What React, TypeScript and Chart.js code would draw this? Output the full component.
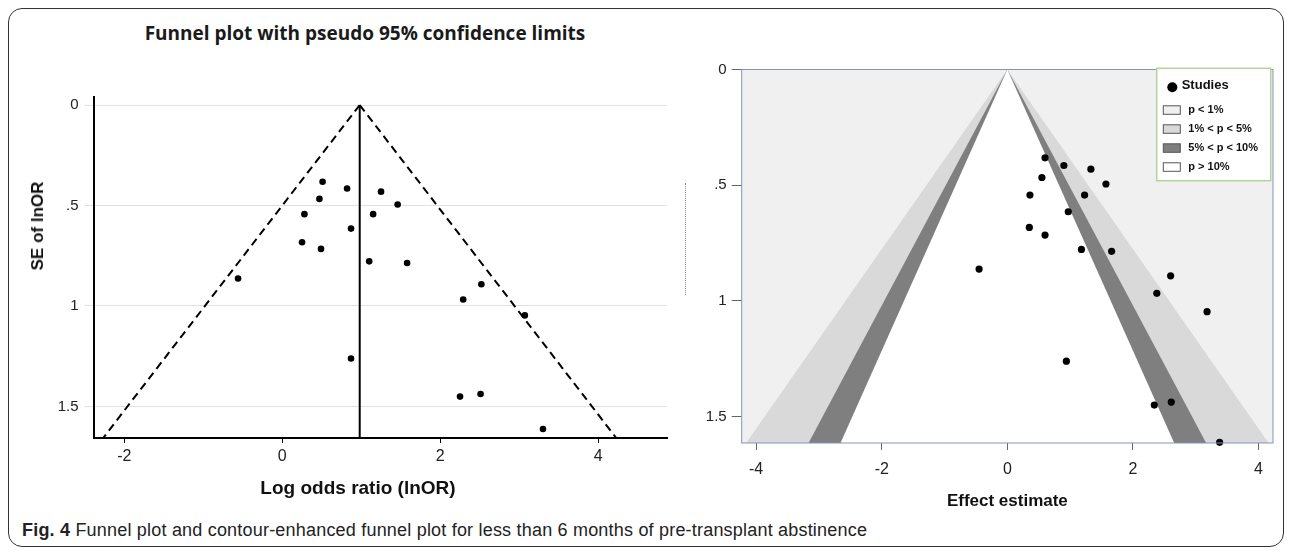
import React, { useEffect, useRef } from 'react';
import { Chart, registerables } from 'chart.js';

Chart.register(...registerables);

const FONT = "'Liberation Sans', Arial, Helvetica, sans-serif";
Chart.defaults.font.family = FONT;
Chart.defaults.color = '#222';

// ---- data ----
const studySE = [
  0.382, 0.415, 0.431, 0.467, 0.495, 0.543, 0.543, 0.615, 0.683, 0.716,
  0.778, 0.786, 0.863, 0.892, 0.968, 1.047, 1.261, 1.451, 1.438, 1.612,
];
const leftLogOR = [
  0.51, 0.82, 1.25, 0.47, 1.46, 0.28, 1.15, 0.87, 0.25, 0.49,
  1.10, 1.58, -0.56, 2.52, 2.29, 3.07, 0.87, 2.25, 2.51, 3.30,
];
const rightEffect = [
  0.60, 0.90, 1.33, 0.55, 1.57, 0.36, 1.23, 0.97, 0.35, 0.60,
  1.18, 1.66, -0.45, 2.60, 2.38, 3.18, 0.94, 2.34, 2.61, 3.38,
];
const pooledLogOR = 0.98;
const z95 = 1.96;
const contourZ = [1.645, 1.96, 2.576]; // p>10%, 5-10%, 1-5% boundaries
const leftXTicks = [-2, 0, 2, 4];
const rightXTicks = [-4, -2, 0, 2, 4];
const seTicks = [0, 0.5, 1, 1.5];
const legendLabels = ['Studies', 'p < 1%', '1% < p < 5%', '5% < p < 10%', 'p > 10%'];
const legendColors = ['#000000', '#f0f0f0', '#d9d9d9', '#7f7f7f', '#ffffff'];
const contourColors = ['#ffffff', '#7f7f7f', '#d9d9d9'];
const outerColor = '#f0f0f0';

const leftRange = { xMin: -2.39, xMax: 4.87, yMin: -0.04, yMax: 1.657 };
const rightRange = { xMin: -4.23, xMax: 4.23, yMin: 0, yMax: 1.615 };

const seLabel = (v: number) => (v === 0 ? '0' : String(v).replace(/^0\./, '.'));

function LeftFunnel() {
  const ref = useRef<HTMLCanvasElement | null>(null);
  useEffect(() => {
    if (!ref.current) return;
    const yMax = leftRange.yMax;
    const chart = new Chart(ref.current, {
      type: 'scatter',
      data: {
        datasets: [
          {
            label: 'Studies',
            data: leftLogOR.map((x, i) => ({ x, y: studySE[i] })),
            pointRadius: 3.3,
            pointBackgroundColor: '#000',
            pointBorderColor: '#000',
            pointBorderWidth: 0,
            clip: false,
          },
          {
            label: 'Pooled',
            data: [{ x: pooledLogOR, y: 0 }, { x: pooledLogOR, y: yMax }],
            showLine: true,
            borderColor: '#000',
            borderWidth: 2,
            pointRadius: 0,
          },
          {
            label: 'Lower limit',
            data: [{ x: pooledLogOR, y: 0 }, { x: pooledLogOR - z95 * yMax, y: yMax }],
            showLine: true,
            borderColor: '#000',
            borderWidth: 2,
            borderDash: [8, 5],
            pointRadius: 0,
          },
          {
            label: 'Upper limit',
            data: [{ x: pooledLogOR, y: 0 }, { x: pooledLogOR + z95 * yMax, y: yMax }],
            showLine: true,
            borderColor: '#000',
            borderWidth: 2,
            borderDash: [8, 5],
            pointRadius: 0,
          },
        ],
      },
      options: {
        animation: false,
        responsive: false,
        maintainAspectRatio: false,
        layout: { padding: { top: 37, right: 13, left: 0, bottom: 0 } },
        plugins: { legend: { display: false }, tooltip: { enabled: false } },
        scales: {
          x: {
            type: 'linear',
            min: leftRange.xMin,
            max: leftRange.xMax,
            afterBuildTicks: (s: any) => {
              s.ticks = leftXTicks.map((v) => ({ value: v }));
            },
            afterFit: (s: any) => {
              s.height = 42;
            },
            ticks: { font: { size: 16 }, color: '#222', padding: 4 },
            grid: { display: true, drawOnChartArea: false, drawTicks: true, tickLength: 5, color: '#000', lineWidth: 1 },
            border: { display: true, color: '#000', width: 2 },
          },
          y: {
            type: 'linear',
            reverse: true,
            min: leftRange.yMin,
            max: leftRange.yMax,
            afterBuildTicks: (s: any) => {
              s.ticks = seTicks.map((v) => ({ value: v }));
            },
            afterFit: (s: any) => {
              s.width = 84.5;
            },
            ticks: { font: { size: 15 }, color: '#222', padding: 6, callback: (v: any) => seLabel(Number(v)) },
            grid: { color: '#e0e0e0', lineWidth: 1, drawTicks: true, tickLength: 9 },
            border: { display: true, color: '#000', width: 2 },
          },
        },
      },
    } as any);
    return () => chart.destroy();
  }, []);
  return <canvas ref={ref} width={671} height={420} style={{ position: 'absolute', left: 0, top: 51, width: 671, height: 420 }} />;
}

const rightPlugins = [
  {
    id: 'areaBackground',
    beforeDatasetsDraw(chart: any) {
      const { ctx, chartArea: a } = chart;
      ctx.save();
      ctx.fillStyle = outerColor;
      ctx.fillRect(a.left, a.top, a.right - a.left, a.bottom - a.top);
      ctx.restore();
    },
  },
  {
    id: 'frameAndLegend',
    afterDatasetsDraw(chart: any) {
      const { ctx, chartArea: a } = chart;
      ctx.save();
      ctx.strokeStyle = '#8394b5';
      ctx.lineWidth = 1;
      ctx.strokeRect(a.left, a.top, a.right - a.left, a.bottom - a.top);

      // legend box
      const w = 114;
      const h = 112.4;
      const left = a.right - 2.3 - w;
      const top = a.top - 1.2;
      ctx.fillStyle = '#ffffff';
      ctx.fillRect(left, top, w, h);
      ctx.strokeStyle = '#b3d39c';
      ctx.lineWidth = 1.5;
      ctx.strokeRect(left, top, w, h);

      ctx.fillStyle = legendColors[0];
      ctx.beginPath();
      ctx.arc(left + 15.6, top + 19, 5, 0, Math.PI * 2);
      ctx.fill();
      ctx.fillStyle = '#111';
      ctx.textBaseline = 'middle';
      ctx.textAlign = 'left';
      ctx.font = `bold 13px ${FONT}`;
      ctx.fillText(legendLabels[0], left + 25, top + 17.5);

      ctx.font = `bold 11px ${FONT}`;
      for (let i = 1; i < legendLabels.length; i++) {
        const cy = top + 41.5 + 19 * (i - 1);
        ctx.fillStyle = legendColors[i];
        ctx.fillRect(left + 6.6, cy - 4, 17, 8.5);
        ctx.strokeStyle = '#555';
        ctx.lineWidth = 1;
        ctx.strokeRect(left + 6.6, cy - 4, 17, 8.5);
        ctx.fillStyle = '#111';
        ctx.fillText(legendLabels[i], left + 31.6, cy);
      }
      ctx.restore();
    },
  },
];

function RightFunnel() {
  const ref = useRef<HTMLCanvasElement | null>(null);
  useEffect(() => {
    if (!ref.current) return;
    const yMax = rightRange.yMax;
    const triangle = (z: number) => [
      { x: -z * yMax, y: yMax },
      { x: 0, y: 0 },
      { x: z * yMax, y: yMax },
    ];
    const chart = new Chart(ref.current, {
      type: 'scatter',
      data: {
        datasets: [
          {
            label: 'Studies',
            data: rightEffect.map((x, i) => ({ x, y: studySE[i] })),
            pointRadius: 3.6,
            pointBackgroundColor: '#000',
            pointBorderColor: '#000',
            pointBorderWidth: 0,
            clip: false,
          },
          ...contourZ.map((z, i) => ({
            label: legendLabels[legendLabels.length - 1 - i],
            data: triangle(z),
            showLine: true,
            borderWidth: 0,
            borderColor: 'rgba(0,0,0,0)',
            backgroundColor: contourColors[i],
            fill: 'start',
            pointRadius: 0,
            tension: 0,
          })),
        ],
      },
      options: {
        animation: false,
        responsive: false,
        maintainAspectRatio: false,
        layout: { padding: { top: 14.5, right: 7, left: 0, bottom: 0 } },
        plugins: { legend: { display: false }, tooltip: { enabled: false } },
        scales: {
          x: {
            type: 'linear',
            min: rightRange.xMin,
            max: rightRange.xMax,
            afterBuildTicks: (s: any) => {
              s.ticks = rightXTicks.map((v) => ({ value: v }));
            },
            afterFit: (s: any) => {
              s.height = 72;
            },
            ticks: { font: { size: 16 }, color: '#222', padding: 10 },
            grid: { display: true, drawOnChartArea: false, drawTicks: true, tickLength: 7, color: '#666' },
            border: { display: false },
            title: {
              display: true,
              text: 'Effect estimate',
              font: { size: 17, weight: 'bold' },
              color: '#111',
              padding: { top: 0, bottom: 3 },
            },
          },
          y: {
            type: 'linear',
            reverse: true,
            min: rightRange.yMin,
            max: rightRange.yMax,
            afterBuildTicks: (s: any) => {
              s.ticks = seTicks.map((v) => ({ value: v }));
            },
            afterFit: (s: any) => {
              s.width = 51.7;
            },
            ticks: { font: { size: 15 }, color: '#222', padding: 5, callback: (v: any) => seLabel(Number(v)) },
            grid: { display: true, drawOnChartArea: false, drawTicks: true, tickLength: 10, color: '#666' },
            border: { display: false },
          },
        },
      },
      plugins: rightPlugins,
    } as any);
    return () => chart.destroy();
  }, []);
  return <canvas ref={ref} width={590} height={460} style={{ position: 'absolute', left: 681, top: 46, width: 590, height: 460 }} />;
}

export default function App() {
  return (
    <div
      style={{
        position: 'relative',
        width: 1276,
        height: 539,
        boxSizing: 'border-box',
        border: '1px solid #333',
        borderRadius: 14,
        background: '#fff',
        overflow: 'hidden',
      }}
    >
      <div
        style={{
          position: 'absolute',
          left: 56,
          top: 12,
          width: 600,
          textAlign: 'center',
          fontFamily: "'Open Sans', 'Noto Sans', sans-serif",
          fontWeight: 700,
          fontSize: 19,
          lineHeight: '24px',
          color: '#1a1a1a',
          whiteSpace: 'nowrap',
        }}
      >
        Funnel plot with pseudo 95% confidence limits
      </div>
      <LeftFunnel />
      <div
        style={{
          position: 'absolute',
          left: 29,
          top: 217,
          transform: 'translate(-50%, -50%) rotate(-90deg)',
          fontFamily: FONT,
          fontWeight: 700,
          fontSize: 17,
          lineHeight: '20px',
          color: '#111',
          whiteSpace: 'nowrap',
        }}
      >
        SE of lnOR
      </div>
      <div
        style={{
          position: 'absolute',
          left: 349,
          top: 479,
          transform: 'translate(-50%, -50%)',
          fontFamily: FONT,
          fontWeight: 700,
          fontSize: 19,
          lineHeight: '22px',
          color: '#111',
          whiteSpace: 'nowrap',
        }}
      >
        Log odds ratio (lnOR)
      </div>
      <div
        style={{
          position: 'absolute',
          left: 676,
          top: 174,
          height: 112,
          width: 0,
          borderLeft: '1px dotted #888',
        }}
      />
      <RightFunnel />
      <div
        style={{
          position: 'absolute',
          left: 13,
          top: 510,
          fontFamily: FONT,
          fontSize: 18,
          letterSpacing: '0.2px',
          lineHeight: '22px',
          color: '#222',
          whiteSpace: 'nowrap',
        }}
      >
        <b>Fig. 4</b> Funnel plot and contour-enhanced funnel plot for less than 6 months of pre-transplant abstinence
      </div>
    </div>
  );
}
